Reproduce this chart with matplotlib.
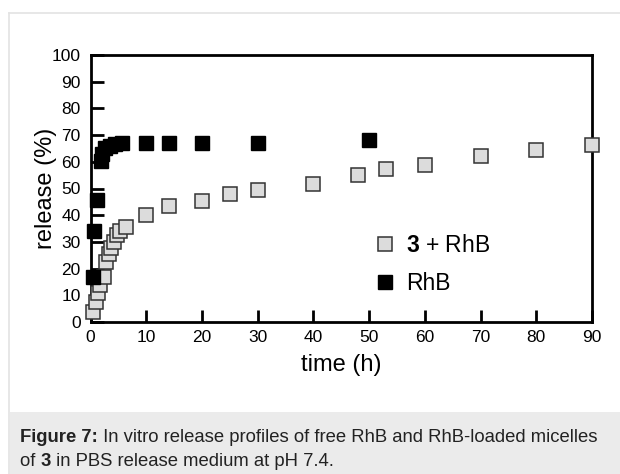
import matplotlib
matplotlib.use("Agg")
import matplotlib.pyplot as plt
from matplotlib.patches import Rectangle
from matplotlib.lines import Line2D

plt.rcParams['font.family'] = ['Liberation Sans', 'DejaVu Sans']
plt.rcParams['mathtext.fontset'] = 'custom'
plt.rcParams['mathtext.rm'] = 'Liberation Sans'
plt.rcParams['mathtext.bf'] = 'Liberation Sans:bold'

# 3 + RhB (micelles)
t_mic = [0.4, 0.9, 1.3, 1.7, 2.4, 2.8, 3.3, 3.7, 4.2, 4.7, 5.3, 6.4,
         10, 14, 20, 25, 30, 40, 48, 53, 60, 70, 80, 90]
r_mic = [3.9, 7.4, 11, 13.9, 16.7, 22.6, 25.4, 27.6, 30, 32.6, 34, 35.5,
         40, 43.4, 45.3, 47.8, 49.4, 51.8, 55.2, 57.2, 58.8, 62, 64.3, 66.2]

# free RhB
t_free = [0.4, 0.7, 1.2, 1.9, 2.1, 2.6, 3.5, 4.4, 5.6, 10, 14, 20, 30, 50]
r_free = [16.7, 34, 45.7, 60.4, 63, 65, 66, 66.5, 67, 67.2, 67.1, 67, 67, 68]

caption1 = [("Figure 7:", 'bold'),
            (" In vitro release profiles of free RhB and RhB-loaded micelles", 'normal')]
caption2 = [("of ", 'normal'), ("3", 'bold'), (" in PBS release medium at pH 7.4.", 'normal')]

fig = plt.figure(figsize=(6.2, 4.74), dpi=100)
W, H = 620, 474

# card border and caption box
fig.add_artist(Line2D([9 / W, 1], [1 - 13 / H, 1 - 13 / H], color='#e3e3e3', lw=1.2,
                      transform=fig.transFigure))
fig.add_artist(Line2D([9 / W, 9 / W], [0, 1 - 13 / H], color='#e3e3e3', lw=1.2,
                      transform=fig.transFigure))
fig.add_artist(Rectangle((9.5 / W, 0), 1, 62 / H, transform=fig.transFigure,
                         facecolor='#ebebeb', edgecolor='none'))


def runs(parts, x0, y0, size):
    renderer = fig.canvas.get_renderer()
    x = x0
    for s, w in parts:
        t = fig.text(x / W, 1 - y0 / H, s, fontsize=size, fontweight=w,
                     va='baseline', ha='left', color='#222222')
        x += t.get_window_extent(renderer).width


runs(caption1, 20, 442, 13.3)
runs(caption2, 20, 466, 13.3)

ax = fig.add_axes([90.5 / W, 1 - 322 / H, (592 - 90.5) / W, (322 - 55) / H])
ax.plot(t_mic, r_mic, 's', ms=10, mfc='#dcdcdc', mec='#333333', mew=1.1,
        label=r'$\mathbf{3}$ + RhB', clip_on=False, zorder=3)
ax.plot(t_free, r_free, 's', ms=10.5, mfc='black', mec='black',
        label='RhB', clip_on=False, zorder=4)

ax.set_xlim(0, 90)
ax.set_ylim(0, 100)
ax.set_xticks(range(0, 91, 10))
ax.set_yticks(range(0, 101, 10))
ax.tick_params(axis='both', direction='in', length=9, width=2, labelsize=12.5)
ax.tick_params(axis='x', pad=6)
ax.tick_params(axis='y', pad=7)
for s in ax.spines.values():
    s.set_linewidth(2)
ax.set_xlabel('time (h)', fontsize=17, labelpad=6)
ax.set_ylabel('release (%)', fontsize=17, labelpad=-4)

ax.legend(loc='center left', bbox_to_anchor=(0.528, 0.215), frameon=False, fontsize=16.5,
          handletextpad=0.5, labelspacing=0.68, handlelength=0.8, numpoints=1)

fig.savefig('out.png', dpi=100)
